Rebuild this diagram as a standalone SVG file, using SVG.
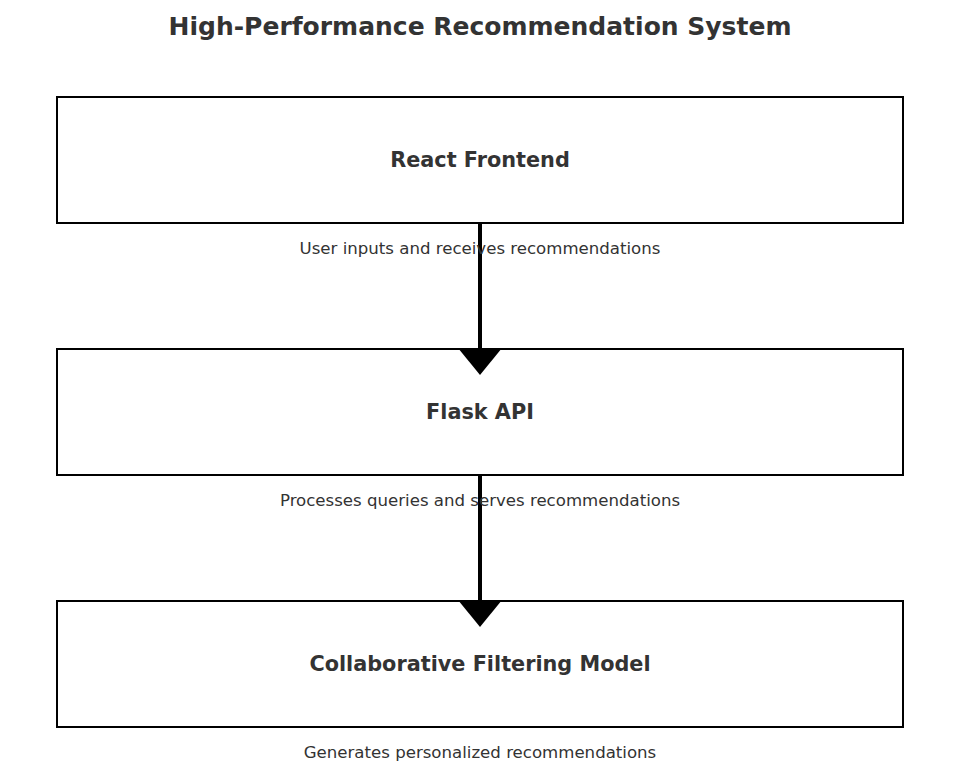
<svg xmlns="http://www.w3.org/2000/svg" width="959" height="776" viewBox="0 0 959 776">
<style>
.box{fill:#fff;stroke:#000;stroke-width:2}
.title{font-family:"DejaVu Sans",sans-serif;font-weight:bold;font-size:25px;fill:#333;text-anchor:middle}
.lbl{font-family:"DejaVu Sans",sans-serif;font-weight:bold;font-size:20.8px;fill:#333;text-anchor:middle}
.sub{font-family:"DejaVu Sans",sans-serif;font-size:16.6px;fill:#333;text-anchor:middle}
.edge{stroke:#000;stroke-width:4}
.head{fill:#000}
</style>
<rect width="959" height="776" fill="#fff"/>
<text class="title" x="480" y="35">High-Performance Recommendation System</text>
<g id="react">
<rect class="box" x="57" y="97" width="846" height="126"/>
<text class="lbl" x="480" y="167">React Frontend</text>
</g>
<g id="flask">
<rect class="box" x="57" y="349" width="846" height="126"/>
<text class="lbl" x="480" y="419">Flask API</text>
</g>
<g id="model">
<rect class="box" x="57" y="601" width="846" height="126"/>
<text class="lbl" x="480" y="671">Collaborative Filtering Model</text>
</g>
<g id="connectors">
<line class="edge" x1="480" y1="222" x2="480" y2="350"/>
<polygon class="head" points="458,348 502,348 480,375"/>
<line class="edge" x1="480" y1="474" x2="480" y2="602"/>
<polygon class="head" points="458,600 502,600 480,627"/>
</g>
<text class="sub" x="480" y="254">User inputs and receives recommendations</text>
<text class="sub" x="480" y="506">Processes queries and serves recommendations</text>
<text class="sub" x="480" y="758">Generates personalized recommendations</text>
</svg>
